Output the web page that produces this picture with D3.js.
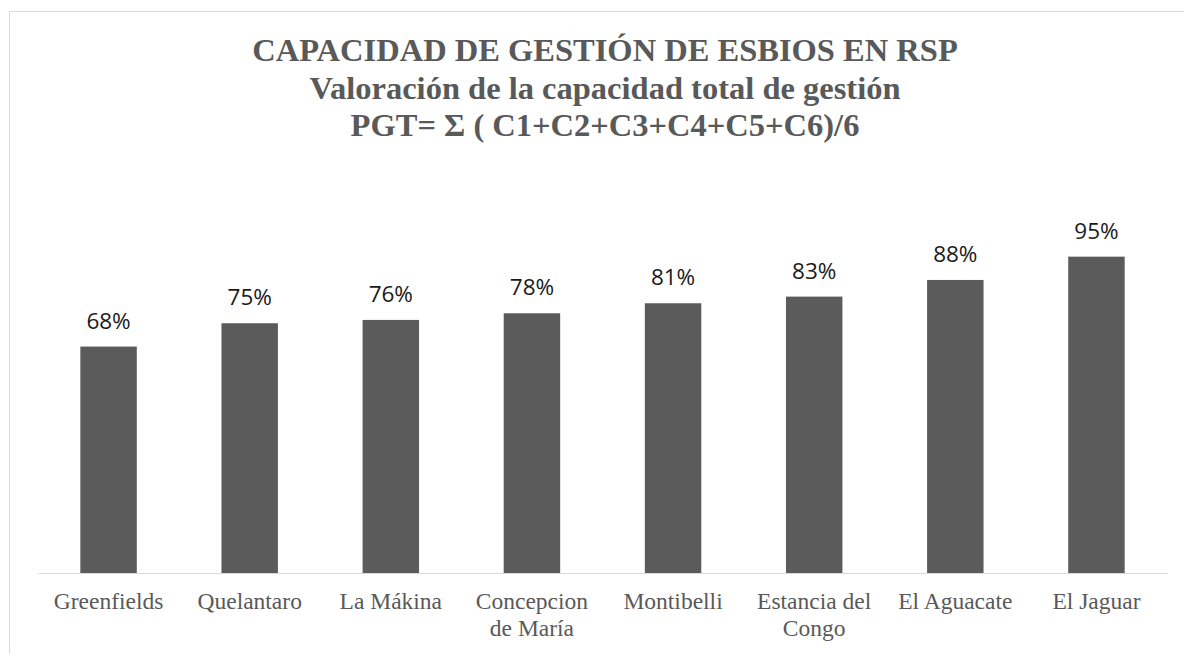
<!DOCTYPE html>
<html>
<head>
<meta charset="utf-8">
<script src="https://cdn.jsdelivr.net/npm/d3@7"></script>
<style>
  html, body { margin: 0; padding: 0; background: #ffffff; }
  svg { display: block; }
</style>
</head>
<body>
<div id="chart"></div>
<script>
const titleLines = [
  "CAPACIDAD DE GESTIÓN DE ESBIOS EN RSP",
  "Valoración de la capacidad total de gestión",
  "PGT= Σ ( C1+C2+C3+C4+C5+C6)/6"
];
const categories = ["Greenfields", "Quelantaro", "La Mákina", "Concepcion de María", "Montibelli", "Estancia del Congo", "El Aguacate", "El Jaguar"];
const values = [0.68, 0.75, 0.76, 0.78, 0.81, 0.83, 0.88, 0.95];
const yDomain = [0, 1.0];

const W = 1184, H = 654;
const margin = { left: 38, right: 17, top: 240, bottom: 81 };

const svg = d3.select("#chart").append("svg")
  .attr("width", W).attr("height", H);

// outer frame
svg.append("rect")
  .attr("x", 9.5).attr("y", 11.5)
  .attr("width", W + 20).attr("height", H + 20)
  .attr("fill", "#ffffff")
  .attr("stroke", "#d9d9d9").attr("stroke-width", 1);

// title
const title = svg.append("text")
  .attr("text-anchor", "middle")
  .attr("font-family", "'Liberation Serif', 'Times New Roman', serif")
  .attr("font-weight", "bold")
  .attr("font-size", 32.5)
  .attr("fill", "#595959");
titleLines.forEach((t, i) => {
  title.append("tspan").attr("x", 605).attr("y", 61 + i * 37.5).text(t);
});

const x = d3.scaleBand()
  .domain(categories)
  .range([margin.left, W - margin.right])
  .paddingInner(0.6)
  .paddingOuter(0.3);

const y = d3.scaleLinear()
  .domain(yDomain)
  .range([H - margin.bottom, margin.top]);

const baseY = H - margin.bottom;

// bars
svg.append("g").selectAll("rect")
  .data(values)
  .join("rect")
  .attr("x", (d, i) => x(categories[i]))
  .attr("width", x.bandwidth())
  .attr("y", d => y(d))
  .attr("height", d => baseY - y(d))
  .attr("fill", "#5b5b5b");

// axis line
const xAxis = d3.axisBottom(x).tickSize(0).tickFormat("");
const axisG = svg.append("g").attr("transform", `translate(0,${baseY})`).call(xAxis);
axisG.select(".domain").attr("stroke", "#d9d9d9").attr("stroke-width", 1);

// value labels
svg.append("g").selectAll("text")
  .data(values)
  .join("text")
  .attr("x", (d, i) => x(categories[i]) + x.bandwidth() / 2)
  .attr("y", d => y(d) - 18)
  .attr("text-anchor", "middle")
  .attr("font-family", "'Open Sans', sans-serif")
  .attr("font-size", 22.5)
  .attr("fill", "#1a1a1a")
  .text(d => d3.format(".0%")(d));

// category labels with wrapping
const catG = svg.append("g")
  .attr("font-family", "'Liberation Serif', 'Times New Roman', serif")
  .attr("font-size", 23.5)
  .attr("fill", "#595959")
  .attr("text-anchor", "middle");

const maxW = 122;
const labelY = 609;
categories.forEach(c => {
  const cx = x(c) + x.bandwidth() / 2;
  const t = catG.append("text").attr("x", cx).attr("y", labelY);
  const words = c.split(" ");
  let line = [];
  let lineNo = 0;
  let tspan = t.append("tspan").attr("x", cx).attr("y", labelY);
  words.forEach(w => {
    line.push(w);
    tspan.text(line.join(" "));
    if (tspan.node().getComputedTextLength() > maxW && line.length > 1) {
      line.pop();
      tspan.text(line.join(" "));
      line = [w];
      lineNo++;
      tspan = t.append("tspan").attr("x", cx).attr("y", labelY + lineNo * 26.5).text(w);
    }
  });
});
</script>
</body>
</html>
